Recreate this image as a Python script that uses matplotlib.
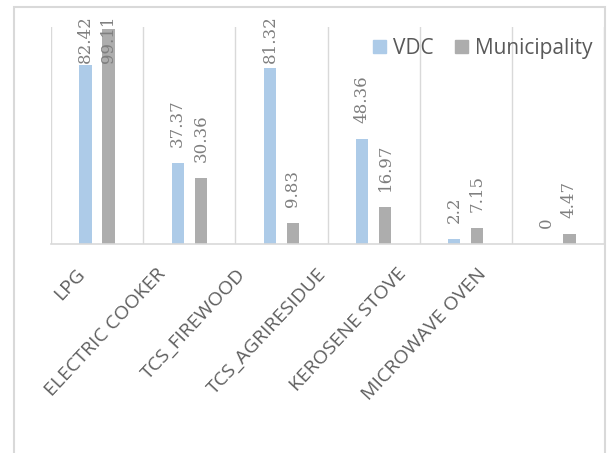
import numpy as np
import matplotlib.pyplot as plt
from matplotlib.patches import Patch, Rectangle

# Data
categories = ['LPG', 'ELECTRIC COOKER', 'TCS_FIREWOOD', 'TCS_AGRIRESIDUE',
              'KEROSENE STOVE', 'MICROWAVE OVEN']
vdc = [82.42, 37.37, 81.32, 48.36, 2.2, 0]
municipality = [99.11, 30.36, 9.83, 16.97, 7.15, 4.47]
vdc_labels = ['82.42', '37.37', '81.32', '48.36', '2.2', '0']
mun_labels = ['99.11', '30.36', '9.83', '16.97', '7.15', '4.47']

blue = '#ADCBE8'
gray = '#ADADAD'
grid_col = '#D9D9D9'
text_col = '#7F7F7F'

fig = plt.figure(figsize=(6.07, 4.53), dpi=100)
ax = fig.add_axes([51 / 607, 1 - 244 / 453, (604 - 51) / 607, 217 / 453])

x = np.arange(len(categories))
bw = 0.135
off = 0.125
ax.bar(x - off, vdc, bw, color=blue, zorder=2)
ax.bar(x + off, municipality, bw, color=gray, zorder=2)

ax.set_xlim(-0.5, len(categories) - 0.5)
ax.set_ylim(0, 100)

# category separators
for b in np.arange(len(categories) + 1) - 0.5:
    ax.axvline(b, color=grid_col, lw=1, zorder=1)

for s in ['top', 'left', 'right']:
    ax.spines[s].set_visible(False)
ax.spines['bottom'].set_color(grid_col)
ax.spines['bottom'].set_linewidth(1.2)
ax.set_xticks([])
ax.set_yticks([])

# data labels (kept inside the chart area like Excel does)
def put_labels(xs, vals, labs):
    for xi, v, lab in zip(xs, vals, labs):
        y = min(v + 7.4, 83.4)
        ax.text(xi, y, lab, rotation=90, ha='center', va='bottom',
                fontsize=12, family='DejaVu Serif', color=text_col,
                clip_on=False)

put_labels(x - off, vdc, vdc_labels)
put_labels(x + off, municipality, mun_labels)

# category labels
lab_pos = x * 0.87 - 0.16
for p, lab in zip(lab_pos, categories):
    ax.annotate(lab, xy=(p, 0), xycoords=('data', 'axes fraction'),
                xytext=(0, -19.5), textcoords='offset points',
                rotation=47, ha='right', va='center', rotation_mode='anchor',
                fontsize=14, family='Open Sans', color='#5F5F5F')

handles = [Patch(color=blue, label='VDC'), Patch(color=gray, label='Municipality')]
fig.legend(handles=handles, loc='center right', ncol=2, frameon=False,
           bbox_to_anchor=(592 / 607, 1 - 48.5 / 453),
           bbox_transform=fig.transFigure, borderaxespad=0, borderpad=0,
           handlelength=0.62, handleheight=0.62, handletextpad=0.33,
           columnspacing=1.0, prop={'family': 'Open Sans', 'size': 15},
           labelcolor='#595959')

# outer chart frame
fig.patches.append(Rectangle((14 / 607, -0.05), (605 - 14) / 607, 1.05 - 7 / 453,
                             transform=fig.transFigure, fill=False,
                             ec=grid_col, lw=1.5))

fig.savefig('out.png', dpi=100)
